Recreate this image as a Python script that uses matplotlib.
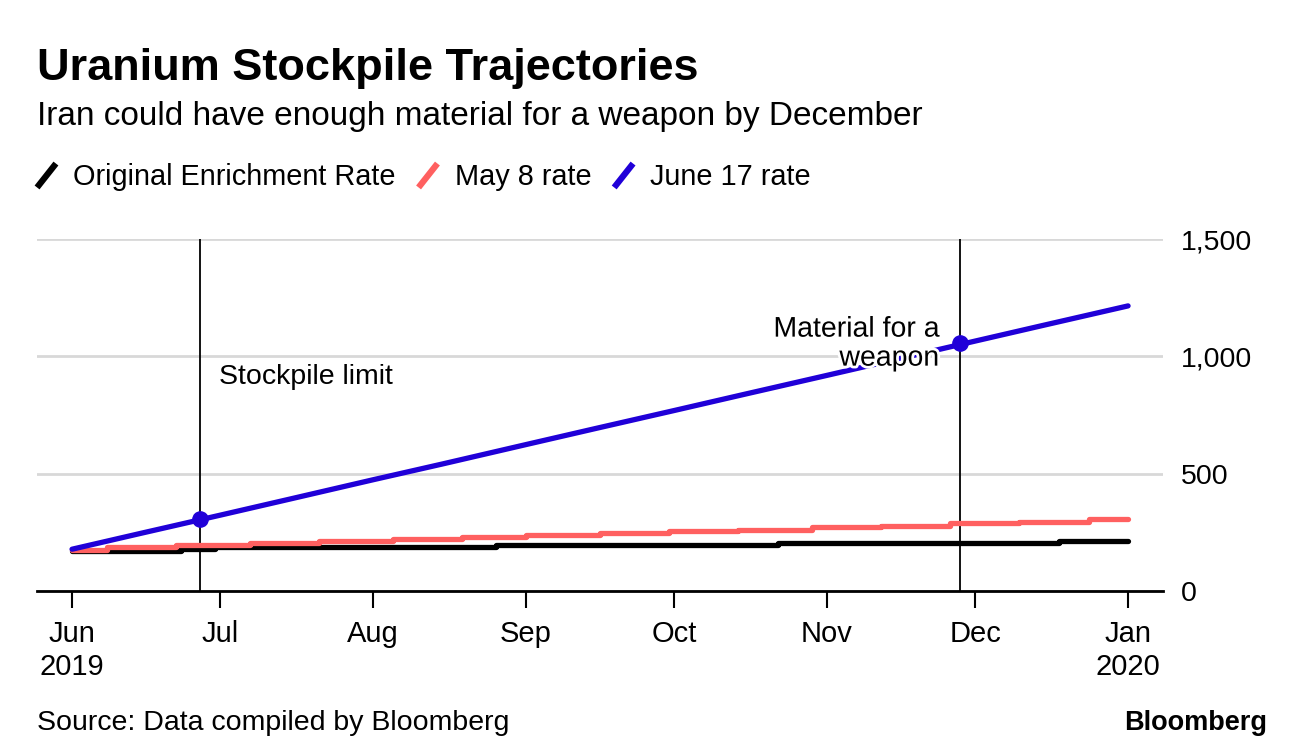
import matplotlib
matplotlib.use('Agg')
import matplotlib.pyplot as plt
import matplotlib.patheffects as pe
from matplotlib.lines import Line2D
from matplotlib.ticker import FuncFormatter
import pandas as pd

# June 17 rate (roughly every half month)
blue_dates = ['2019-06-01', '2019-06-15', '2019-07-01', '2019-07-15', '2019-08-01',
              '2019-08-15', '2019-09-01', '2019-09-15', '2019-10-01', '2019-10-15',
              '2019-11-01', '2019-11-15', '2019-12-01', '2019-12-15', '2020-01-01']
blue_vals = [178, 246, 323, 391, 474, 541, 624, 692, 769, 837, 919, 987, 1065, 1133, 1215]

# May 8 rate (stepped)
red_dates = ['2019-06-01', '2019-06-08', '2019-06-22', '2019-07-07', '2019-07-21',
             '2019-08-05', '2019-08-19', '2019-09-01', '2019-09-16', '2019-09-30',
             '2019-10-14', '2019-10-29', '2019-11-12', '2019-11-26', '2019-12-10',
             '2019-12-24', '2020-01-01']
red_vals = [176, 186, 194, 203, 211, 220, 228, 237, 245, 254, 262, 271, 279, 288, 296, 305, 305]

# Original enrichment rate (stepped)
black_dates = ['2019-06-01', '2019-06-23', '2019-06-30', '2019-08-26', '2019-10-22',
               '2019-12-18', '2020-01-01']
black_vals = [172, 180, 187, 195, 203, 211, 211]

# marked events
event_dates = ['2019-06-27', '2019-11-28']
event_vals = [307, 1057]

tick_dates = ['2019-06-01', '2019-07-01', '2019-08-01', '2019-09-01', '2019-10-01',
              '2019-11-01', '2019-12-01', '2020-01-01']
tick_labels = ['Jun\n2019', 'Jul', 'Aug', 'Sep', 'Oct', 'Nov', 'Dec', 'Jan\n2020']

BLUE = '#2000d8'
RED = '#ff6060'

plt.rcParams['font.family'] = ['Liberation Sans', 'DejaVu Sans']

fig = plt.figure(figsize=(12.96, 7.54), dpi=100)
ax = fig.add_axes([0.02855, 0.2162, 0.8689, 0.4668])

ax.plot(pd.to_datetime(black_dates), black_vals, color='black', lw=3.8,
        drawstyle='steps-post', solid_capstyle='round', zorder=3)
ax.plot(pd.to_datetime(red_dates), red_vals, color=RED, lw=3.8,
        drawstyle='steps-post', solid_capstyle='round', zorder=4)
ax.plot(pd.to_datetime(blue_dates), blue_vals, color=BLUE, lw=3.8,
        solid_capstyle='round', zorder=5)

ev = pd.to_datetime(event_dates)
for d in ev:
    ax.axvline(d, color='black', lw=1.3, zorder=2)
ax.plot(ev, event_vals, 'o', color=BLUE, ms=11, zorder=6)

ax.text(ev[0] + pd.Timedelta(days=3.8), 910, 'Stockpile limit', fontsize=20.5,
        ha='left', va='center')
ax.text(ev[1] - pd.Timedelta(days=4.2), 1052, 'Material for a\nweapon', fontsize=20.5,
        ha='right', va='center', multialignment='right', linespacing=1.15, zorder=7,
        path_effects=[pe.withStroke(linewidth=4, foreground='white')])

ax.set_ylim(0, 1500)
ax.set_yticks([0, 500, 1000, 1500])
ax.yaxis.set_major_formatter(FuncFormatter(lambda v, p: f'{int(v):,}'))
ax.yaxis.tick_right()
ax.tick_params(axis='y', length=0, pad=13, labelsize=20.5)
ax.grid(axis='y', color='#d8d8d8', lw=2)
ax.set_axisbelow(True)

xmin = pd.Timestamp('2019-06-01') - pd.Timedelta(days=7.1)
xmax = pd.Timestamp('2020-01-01') + pd.Timedelta(days=7.1)
ax.set_xlim(xmin, xmax)
ax.set_xticks(pd.to_datetime(tick_dates))
ax.set_xticklabels(tick_labels)
ax.tick_params(axis='x', length=12, width=1.5, pad=9, labelsize=21)

for s in ['top', 'left', 'right']:
    ax.spines[s].set_visible(False)
ax.spines['bottom'].set_linewidth(2)

fig.text(0.0285, 0.894, 'Uranium Stockpile Trajectories', fontsize=32.5,
         fontweight='bold', va='baseline')
fig.text(0.0285, 0.834, 'Iran could have enough material for a weapon by December',
         fontsize=24, va='baseline')

# legend with slanted swatches
x = 39 / 1296
for label, col in [('Original Enrichment Rate', 'black'), ('May 8 rate', RED),
                   ('June 17 rate', BLUE)]:
    fig.add_artist(Line2D([x, x + 15 / 1296], [1 - 185 / 754, 1 - 166 / 754],
                          color=col, lw=4.5, transform=fig.transFigure))
    t = fig.text(x + 34 / 1296, 1 - 185 / 754, label, fontsize=20.8, va='baseline')
    fig.canvas.draw()
    bb = t.get_window_extent()
    x = (bb.x1 + 25) / 1296

fig.text(0.0285, 0.032, 'Source: Data compiled by Bloomberg', fontsize=20.5, va='baseline')
fig.text(0.978, 0.032, 'Bloomberg', fontsize=19.5, fontweight='bold', ha='right',
         va='baseline')

fig.savefig('out.png', dpi=100)
